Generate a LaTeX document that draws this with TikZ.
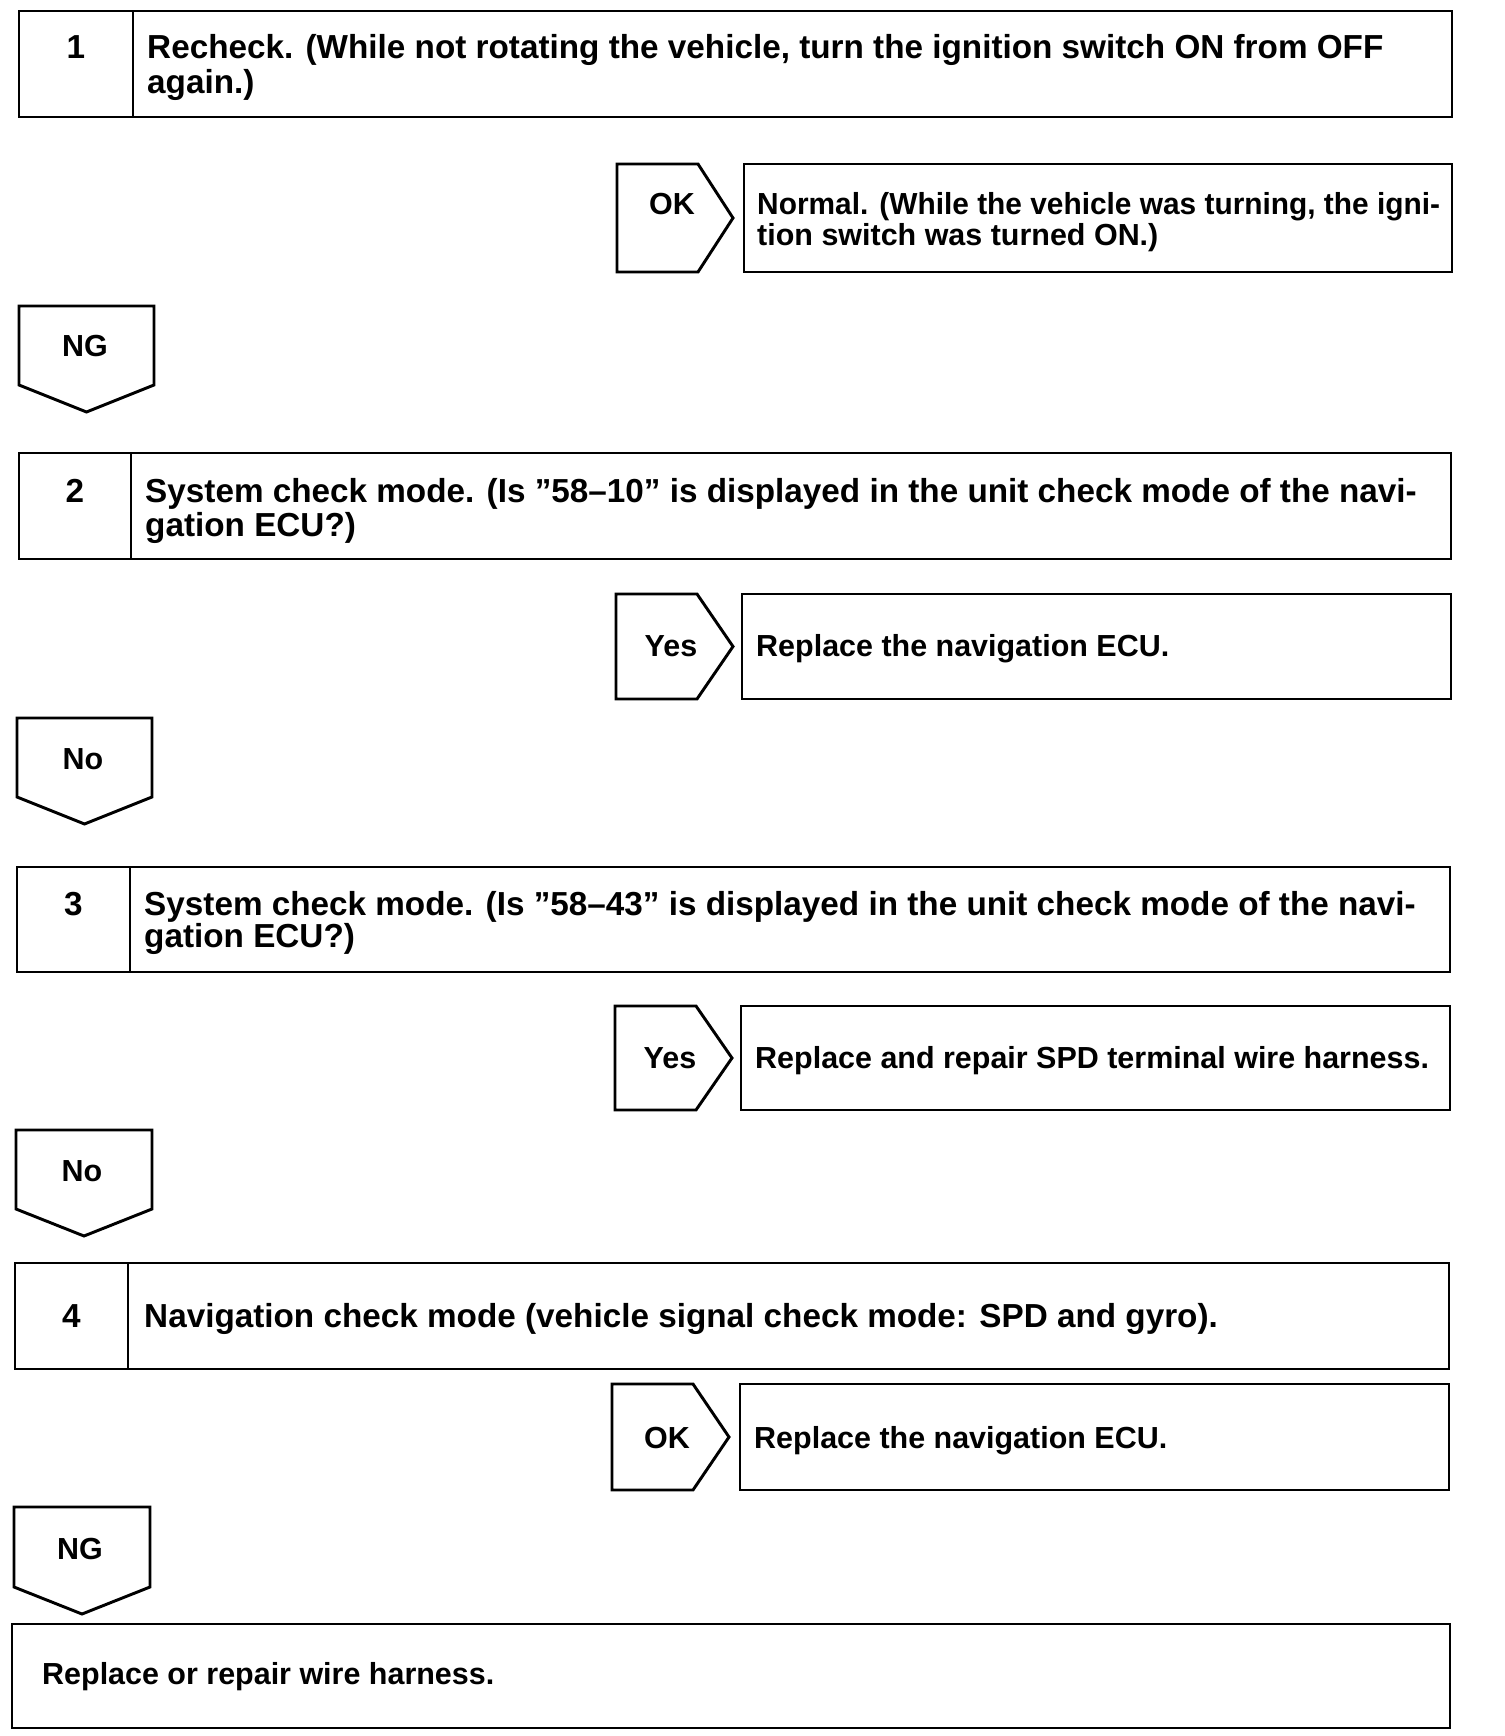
\documentclass[tikz,border=0pt]{standalone}
\usepackage{fontspec}
\usepackage{graphicx}
\setmainfont{Liberation Sans}

\tikzset{
  frame/.style={line width=2.5pt, line join=miter},
  txt/.style={anchor=base west, inner sep=0pt, font=\fontsize{26}{29}\selectfont\bfseries},
  qtxt/.style={txt, font=\fontsize{28.4}{29}\selectfont\bfseries},
  lbl/.style={anchor=base, inner sep=0pt, font=\fontsize{26}{29}\selectfont\bfseries},
  qnum/.style={lbl, font=\fontsize{28.4}{29}\selectfont\bfseries}
}

\begin{document}
\begin{tikzpicture}[x=0.03cm, y=-0.03cm]
    \useasboundingbox (0,0) rectangle (1504,1736);

    % Step 1
    \draw[frame] (19,11) rectangle (1452,117);
    \draw[frame] (133,11) -- (133,117);
    \node[qnum] (num1) at (76,58.5) {1};
    \node[qtxt] (q1a) at (147,58.5) {Recheck. (While not rotating the vehicle, turn the ignition switch ON from OFF};
    \node[qtxt] (q1b) at (147,93) {again.)};

    % OK branch of step 1
    \draw[frame] (617,164) -- (698,164) -- (733,218) -- (698,272) -- (617,272) -- cycle;
    \node[lbl] (ok1) at (672,214) {OK};
    \draw[frame] (744,164) rectangle (1452,272);
    \node[txt] (res1a) at (757,214) {\scalebox{0.98}[1]{Normal. (While the vehicle was turning, the igni-}};
    \node[txt] (res1b) at (757,245) {tion switch was turned ON.)};

    % NG tab
    \draw[frame] (19,306) -- (154,306) -- (154,385) -- (86.5,412) -- (19,385) -- cycle;
    \node[lbl] (ng1) at (85,356.5) {NG};

    % Step 2
    \draw[frame] (19,453) rectangle (1451,559);
    \draw[frame] (131,453) -- (131,559);
    \node[qnum] (num2) at (75,502.5) {2};
    \node[qtxt] (q2a) at (145,502.5) {System check mode. (Is ”58–10” is displayed in the unit check mode of the navi-};
    \node[qtxt] (q2b) at (145,536) {gation ECU?)};

    % Yes branch of step 2
    \draw[frame] (616,594) -- (697,594) -- (733,646.5) -- (697,699) -- (616,699) -- cycle;
    \node[lbl] (yes2) at (671,656.7) {Yes};
    \draw[frame] (742,594) rectangle (1451,699);
    \node[txt] (res2) at (756,656.7) {Replace the navigation ECU.};

    % No tab
    \draw[frame] (17,718) -- (152,718) -- (152,797) -- (84.5,824) -- (17,797) -- cycle;
    \node[lbl] (no2) at (83,769.6) {No};

    % Step 3
    \draw[frame] (17,867) rectangle (1450,972);
    \draw[frame] (130,867) -- (130,972);
    \node[qnum] (num3) at (73.5,915.5) {3};
    \node[qtxt] (q3a) at (144,915.5) {System check mode. (Is ”58–43” is displayed in the unit check mode of the navi-};
    \node[qtxt] (q3b) at (144,947.8) {gation ECU?)};

    % Yes branch of step 3
    \draw[frame] (615,1006) -- (696,1006) -- (732,1058) -- (696,1110) -- (615,1110) -- cycle;
    \node[lbl] (yes3) at (670,1068.7) {Yes};
    \draw[frame] (741,1006) rectangle (1450,1110);
    \node[txt] (res3) at (755,1068.7) {Replace and repair SPD terminal wire harness.};

    % No tab
    \draw[frame] (16,1130) -- (152,1130) -- (152,1209) -- (84,1236) -- (16,1209) -- cycle;
    \node[lbl] (no3) at (82,1181.6) {No};

    % Step 4
    \draw[frame] (15,1263) rectangle (1449,1369);
    \draw[frame] (128,1263) -- (128,1369);
    \node[qnum] (num4) at (71.5,1327.5) {4};
    \node[qtxt] (q4) at (144,1327.5) {Navigation check mode (vehicle signal check mode: SPD and gyro).};

    % OK branch of step 4
    \draw[frame] (612,1384) -- (693,1384) -- (729,1437) -- (693,1490) -- (612,1490) -- cycle;
    \node[lbl] (ok4) at (667,1448.5) {OK};
    \draw[frame] (740,1384) rectangle (1449,1490);
    \node[txt] (res4) at (754,1448.5) {Replace the navigation ECU.};

    % NG tab
    \draw[frame] (14,1507) -- (150,1507) -- (150,1587) -- (82,1614) -- (14,1587) -- cycle;
    \node[lbl] (ng4) at (80,1559.3) {NG};

    % Final result
    \draw[frame] (12,1624) rectangle (1450,1728);
    \node[txt] (res5) at (42,1684.5) {Replace or repair wire harness.};
\end{tikzpicture}
\end{document}
